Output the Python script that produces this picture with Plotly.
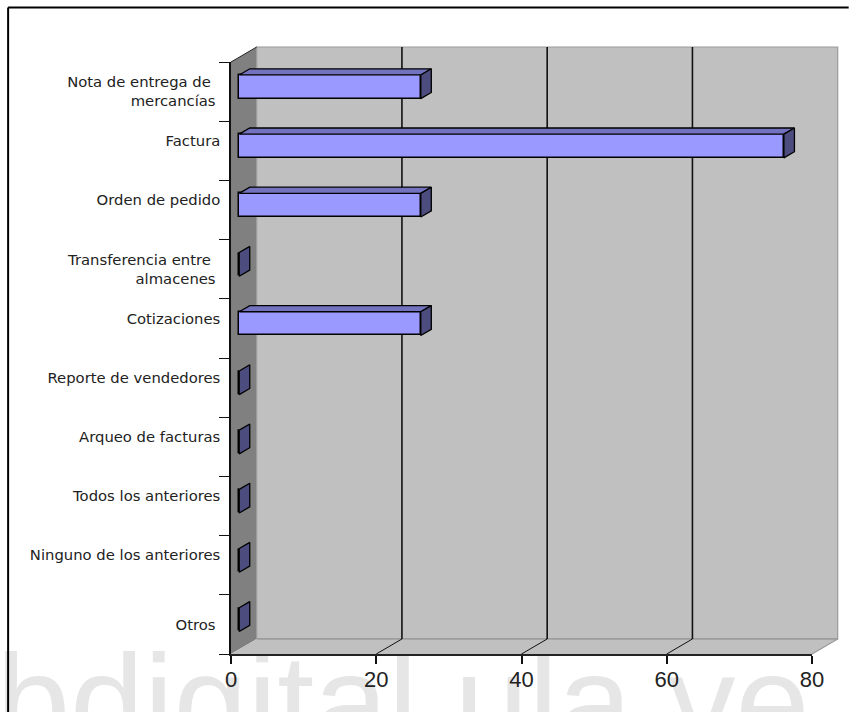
import plotly.graph_objects as go

categories = ["Nota de entrega de\u00a0\u00a0<br>mercancías\u00a0", "Factura", "Orden de pedido",
              "Transferencia entre\u00a0\u00a0<br>almacenes\u00a0", "Cotizaciones", "Reporte de vendedores",
              "Arqueo de facturas", "Todos los anteriores", "Ninguno de los anteriores", "Otros\u00a0"]
values = [25, 75, 25, 0, 25, 0, 0, 0, 0, 0]
label_shift = [0, -0.169, -0.169, 0, -0.169, -0.169, -0.169, -0.169, -0.169, 0]
x_ticks = [0, 20, 40, 60, 80]

W, H = 849, 712
L, T, R, B = 231, 62, 812.3, 654
DX = 25.7 / ((R - L) / 80)   # wall depth in x units
DY = -15 / ((B - T) / 10)    # wall depth in category units
Z0, Z1 = 0.32, 0.73          # bar's front and back depth
BAR = 0.4

def px(x): return x / 80
def py(y): return 1 - y / 10
def poly(pts):
    return "M" + " L".join(f"{px(a):.5f},{py(b):.5f}" for a, b in pts) + " Z"
def shape(path, fill="rgba(0,0,0,0)", line="rgba(0,0,0,0)", width=0):
    return dict(type="path", xref="paper", yref="paper", path=path, fillcolor=fill,
                line=dict(color=line, width=width), layer="below")
def seg(p, q, color="#111111", width=1.6):
    return shape(f"M{px(p[0]):.5f},{py(p[1]):.5f} L{px(q[0]):.5f},{py(q[1]):.5f}", line=color, width=width)

shapes = [
    dict(type="rect", xref="paper", yref="paper", layer="below",
         x0=(-7 - L) / (R - L), x1=(860 - L) / (R - L), y0=(B - 755) / (B - T), y1=(B - 622) / (B - T),
         fillcolor="rgba(0,0,0,0)", line=dict(width=0),
         label=dict(text="bdigital.ula.ve", font=dict(family="Liberation Sans", size=133, color="#e6e6e6"),
                    textposition="middle left", padding=0)),
    shape(poly([(0, 0), (DX, DY), (DX, 10 + DY), (0, 10)]), fill="#808080"),
    shape(poly([(DX, DY), (80 + DX, DY), (80 + DX, 10 + DY), (DX, 10 + DY)]), fill="#c0c0c0", line="#9a9a9a", width=1.2),
    shape(poly([(0, 10), (DX, 10 + DY), (80 + DX, 10 + DY), (80, 10)]), fill="#c0c0c0"),
    seg((DX, 10 + DY), (80 + DX, 10 + DY), color="#8c8c8c", width=1.2),
    seg((80, 10), (80 + DX, 10 + DY), color="#9a9a9a", width=1.2),
    seg((0, 0), (DX, DY), color="#222222", width=1),
]
for t in x_ticks[1:-1]:
    shapes.append(seg((t + DX, DY), (t + DX, 10 + DY)))
    shapes.append(seg((t, 10), (t + DX, 10 + DY), width=1))

# frame round the whole picture
fx0, fy0 = (8 - L) / (R - L), (B - 7.5) / (B - T)
shapes.append(dict(type="line", xref="paper", yref="paper", x0=fx0, x1=(849 - L) / (R - L), y0=fy0, y1=fy0,
                   line=dict(color="#000", width=2)))
shapes.append(dict(type="line", xref="paper", yref="paper", x0=fx0, x1=fx0, y0=fy0, y1=(B - 712) / (B - T),
                   line=dict(color="#000", width=2)))

centers = [i + 0.5 for i in range(len(values))]
base = Z0 * DX

top_x, top_y, side_x, side_y = [], [], [], []
for v, c in zip(values, centers):
    x1 = base + v
    y_top = c + Z0 * DY - BAR / 2
    y_bot = c + Z0 * DY + BAR / 2
    ox, oy = (Z1 - Z0) * DX, (Z1 - Z0) * DY
    if v > 0:
        top_x += [base, base + ox, x1 + ox, x1, base, None]
        top_y += [y_top, y_top + oy, y_top + oy, y_top, y_top, None]
    side_x += [x1, x1 + ox, x1 + ox, x1, x1, None]
    side_y += [y_top, y_top + oy, y_bot + oy, y_bot, y_top, None]

fig = go.Figure()
fig.add_trace(go.Bar(orientation="h", x=values, y=[c + Z0 * DY for c in centers], base=base, width=BAR,
                     marker=dict(color="#9999ff", line=dict(color="#000", width=1.5)),
                     hoverinfo="skip", cliponaxis=False))
fig.add_trace(go.Scatter(x=top_x, y=top_y, mode="lines", fill="toself", fillcolor="#7272bf",
                         line=dict(color="#000", width=1.3), hoverinfo="skip", cliponaxis=False))
fig.add_trace(go.Scatter(x=side_x, y=side_y, mode="lines", fill="toself", fillcolor="#4c4c7f",
                         line=dict(color="#000", width=1.3), hoverinfo="skip", cliponaxis=False))

fig.update_layout(
    width=W, height=H, showlegend=False, plot_bgcolor="rgba(0,0,0,0)", paper_bgcolor="#fff",
    margin=dict(l=L, r=W - R, t=T, b=H - B, autoexpand=False),
    shapes=shapes, bargap=0,
    xaxis=dict(range=[0, 80], tickvals=x_ticks, ticks="outside", ticklen=8, tickwidth=1.5, tickcolor="#111",
               showgrid=False, zeroline=False, showline=True, linecolor="#222", linewidth=1.5,
               ticklabelstandoff=-3,
               tickfont=dict(family="Liberation Sans", size=22, color="#222")),
    yaxis=dict(range=[10, 0], tickvals=[c + s for c, s in zip(centers, label_shift)], ticktext=categories,
               ticks="", ticklabelstandoff=6, showgrid=False, zeroline=False, showline=True,
               linecolor="#111", linewidth=1.5,
               tickfont=dict(family="DejaVu Sans", size=14.8, color="#222"),
               minor=dict(tickvals=list(range(11)), ticks="outside", ticklen=10, tickcolor="#111", tickwidth=1.3)),
)
fig.write_html("out.html", config={"displayModeBar": False},
               post_script="document.body.style.margin='0';document.body.style.overflow='hidden';")
